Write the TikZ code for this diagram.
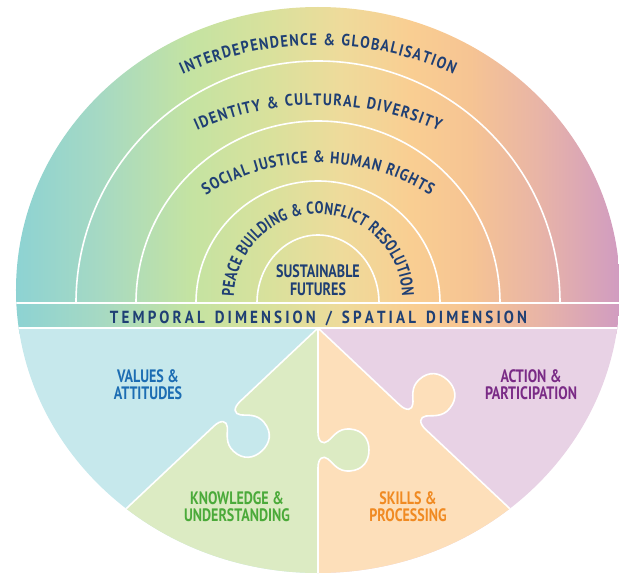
\documentclass[tikz,border=0pt]{standalone}
\usepackage{fontspec}
\setmainfont{PT Sans}
\newfontfamily\arcfont{PT Sans}[FakeStretch=0.86]
\newfontfamily\labelfont{PT Sans}[FakeStretch=0.78]
\usetikzlibrary{decorations.text}

\definecolor{navy}{HTML}{1F3F74}
\definecolor{valblue}{HTML}{1C6DB3}
\definecolor{knowgreen}{HTML}{4BAA3A}
\definecolor{skillorange}{HTML}{F08A22}
\definecolor{actpurple}{HTML}{7A2B86}
\definecolor{pcblue}{HTML}{C6E8EC}
\definecolor{pcgreen}{HTML}{DCEBC3}
\definecolor{pcorange}{HTML}{FDDFBA}
\definecolor{pcpurple}{HTML}{E8D2E5}
% rainbow stops, left to right
\definecolor{g1}{HTML}{88D1D6}
\definecolor{g2}{HTML}{A6D9C3}
\definecolor{g3}{HTML}{C4E3A2}
\definecolor{g4}{HTML}{D9E19C}
\definecolor{g5}{HTML}{EEDB9B}
\definecolor{g6}{HTML}{F9CE92}
\definecolor{g7}{HTML}{F6C493}
\definecolor{g8}{HTML}{E8B4A7}
\definecolor{g9}{HTML}{CB96C7}

\tikzset{
  seam/.style={white, line width=1.6pt},
  lbl/.style={font=\labelfont\bfseries\fontsize{18}{17}\selectfont, align=center, inner sep=0pt},
  arctext/.style={decorate, decoration={text along path, text align=fit to path,
      text={|\arcfont\bfseries\fontsize{16.5}{16.5}\selectfont\color{navy}|#1}}},
  innertext/.style={decorate, decoration={text along path, text align=fit to path,
      text={|\labelfont\bfseries\fontsize{17}{17}\selectfont\color{navy}|#1}}},
  bandtext/.style={decorate, decoration={text along path, text align=fit to path,
      text={|\arcfont\bfseries\fontsize{17.5}{17.5}\selectfont\color{navy}|#1}}},
  % frames of the three puzzle seams, origin at the tab
  leftedge/.style={shift={(0,-25)}, rotate=223.3, xshift=125},
  midedge/.style={shift={(0,-25)}, rotate=270, xshift=122},
  rightedge/.style={shift={(0,-25)}, rotate=316.7, xshift=130},
  tab fwd/.style={insert path={-- ([#1]-18,0) .. controls ([#1]-8,0) and ([#1]-5,5) .. ([#1]-9,10)
      .. controls ([#1]-13,15) and ([#1]-22,20) .. ([#1]-21,32)
      .. controls ([#1]-20,45) and ([#1]-11,51) .. ([#1]0,51)
      .. controls ([#1]11,51) and ([#1]20,45) .. ([#1]21,32)
      .. controls ([#1]22,20) and ([#1]13,15) .. ([#1]9,10)
      .. controls ([#1]5,5) and ([#1]8,0) .. ([#1]18,0)}},
  tab rev/.style={insert path={-- ([#1]18,0) .. controls ([#1]8,0) and ([#1]5,5) .. ([#1]9,10)
      .. controls ([#1]13,15) and ([#1]22,20) .. ([#1]21,32)
      .. controls ([#1]20,45) and ([#1]11,51) .. ([#1]0,51)
      .. controls ([#1]-11,51) and ([#1]-20,45) .. ([#1]-21,32)
      .. controls ([#1]-22,20) and ([#1]-13,15) .. ([#1]-9,10)
      .. controls ([#1]-5,5) and ([#1]-8,0) .. ([#1]-18,0)}},
}

\begin{document}
\begin{tikzpicture}[x=1pt,y=1pt]
  \useasboundingbox (-318,-273) rectangle (301,303);
  \begin{scope}
    \clip (0,13) ellipse [x radius=302, y radius=283];
    % dimensions and band
    \foreach \xa/\xb/\ca/\cb in {-320/-218/g1/g2, -218/-128/g2/g3, -128/-48/g3/g4,
        -48/22/g4/g5, 22/92/g5/g6, 92/152/g6/g7, 152/222/g7/g8, 222/320/g8/g9}
      \shade[left color=\ca, right color=\cb] (\xa,-30) rectangle (\xb+0.5,300);
    % puzzle
    \fill[pcblue] (-320,-25) rectangle (0,-360);
    \fill[pcpurple] (0,-25) rectangle (320,-360);
    \fill[pcgreen] (0,-25) [tab fwd=leftedge] -- (-240,-251) -- (-240,-355) -- (0,-355)
      [tab rev=midedge] -- cycle;
    \fill[pcorange] (0,-25) [tab fwd=midedge] -- (0,-355) -- (240,-355) -- (240,-251)
      [tab rev=rightedge] -- cycle;
    \draw[seam] (0,-25) [tab fwd=leftedge] -- (-240,-251);
    \draw[seam] (0,-25) [tab fwd=midedge] -- (0,-355);
    \draw[seam] (0,-25) [tab fwd=rightedge] -- (240,-251);
    % rings
    \draw[seam] (61,0) arc[start angle=0, end angle=180, x radius=61, y radius=68];
    \foreach \r in {122,182,242}
      \draw[seam] (\r,0) arc[start angle=0, end angle=180, radius=\r];
    \draw[seam, line width=2pt] (-320,0) -- (320,0);
    \draw[seam, line width=2pt] (-320,-25) -- (320,-25);
  \end{scope}

  \path[arctext={INTERDEPENDENCE {\&} GLOBALISATION}]
    ([shift={(0,-66)}]114.7:324) arc[start angle=114.7, end angle=65.3, radius=324];
  \path[arctext={IDENTITY {\&} CULTURAL DIVERSITY}]
    ([shift={(0,-97)}]114.2:295) arc[start angle=114.2, end angle=65.8, radius=295];
  \path[arctext={SOCIAL JUSTICE {\&} HUMAN RIGHTS}]
    ([shift={(0,-71.5)}]122:211.5) arc[start angle=122, end angle=58, radius=211.5];
  \path[innertext={PEACE BUILDING {\&} CONFLICT RESOLUTION}]
    ([shift={(0,5)}]179:84) arc[start angle=179, end angle=1, radius=84];
  \path[bandtext={TEMPORAL DIMENSION / SPATIAL DIMENSION}] (-208,-20) -- (209,-20);

  \node[lbl, text=navy, font=\labelfont\bfseries\fontsize{18}{18.5}\selectfont] (futures) at (0,23) {SUSTAINABLE\\FUTURES};
  \node[lbl, text=valblue] (values) at (-170,-82) {VALUES \&\\ATTITUDES};
  \node[lbl, text=knowgreen] (knowledge) at (-81,-204) {KNOWLEDGE \&\\UNDERSTANDING};
  \node[lbl, text=skillorange] (skills) at (90,-204) {SKILLS \&\\PROCESSING};
  \node[lbl, text=actpurple] (action) at (213,-82) {ACTION \&\\PARTICIPATION};
\end{tikzpicture}
\end{document}
